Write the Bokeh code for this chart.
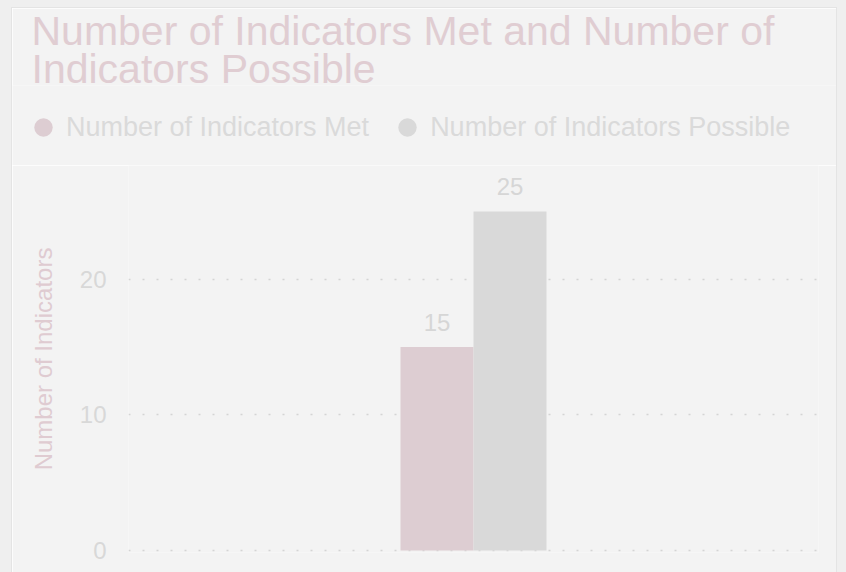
from bokeh.plotting import figure
from bokeh.models import (ColumnDataSource, FactorRange, Range1d, FixedTicker,
                          Legend, LegendItem, LabelSet, Title)
from bokeh.layouts import column
from bokeh.transform import dodge
from bokeh.core.properties import value
from bokeh.embed import file_html
from bokeh.resources import INLINE

# ---- data ----
title_lines = ["Number of Indicators Met and Number of", "Indicators Possible"]
categories = ["Indicators"]
series = ["Number of Indicators Met", "Number of Indicators Possible"]
met = [15]
possible = [25]
colors = ["#ddcdd2", "#d9d9d9"]
y_ticks = [0, 10, 20]
y_label = "Number of Indicators"

FONT = "Liberation Sans"
TITLE_COLOR = "#e0cdd2"
BG = "#f3f3f3"
BAR_W = 0.1058

src = ColumnDataSource(dict(cat=categories, met=met, possible=possible,
                            met_lbl=[str(v) for v in met],
                            possible_lbl=[str(v) for v in possible]))
cols = ["met", "possible"]
offsets = [-BAR_W / 2, BAR_W / 2]

# ---------------- header: title + legend ----------------
head = figure(width=824, height=157, x_range=FactorRange(*categories),
              y_range=Range1d(0, 30), x_axis_location=None, y_axis_location=None,
              output_backend="svg", toolbar_location=None, min_border=0)
head.frame_align = False
head.grid.visible = False
head.outline_line_color = None
head.background_fill_color = BG
head.border_fill_color = BG

legend_items = []
for i, col in enumerate(cols):
    xd = dodge("cat", offsets[i], range=head.x_range)
    mk = head.scatter(x=xd, y=col, source=src, marker="circle", size=0,
                      fill_color=colors[i], line_color=None)
    legend_items.append(LegendItem(label=series[i], renderers=[mk]))

legend = Legend(items=legend_items, orientation="horizontal", location=(8, 13),
                glyph_width=46, glyph_height=50, label_standoff=0, spacing=15,
                padding=0, margin=0, border_line_color=None,
                background_fill_alpha=0, label_text_font_size="27px",
                label_text_color="#dadada", label_text_font=FONT)
head.add_layout(legend, "center")

head.title.text = title_lines[0]
t2 = Title(text=title_lines[1])
for t in (head.title, t2):
    t.text_font = FONT
    t.text_font_size = "41px"
    t.text_font_style = "normal"
    t.text_color = TITLE_COLOR
    t.align = "left"
    t.offset = 19
head.title.standoff = -6
t2.standoff = -13
head.add_layout(t2, "above")

# ---------------- main chart ----------------
p = figure(width=824, height=407, x_range=FactorRange(*categories),
           y_range=Range1d(-0.15, 28.39), output_backend="svg",
           toolbar_location=None, title_location=None,
           min_border_left=116, min_border_right=18,
           min_border_top=0, min_border_bottom=20)
p.frame_align = False

for i, col in enumerate(cols):
    xd = dodge("cat", offsets[i], range=p.x_range)
    p.vbar(x=xd, top=col, width=BAR_W, color=colors[i], line_color=None, source=src)
    lbl = LabelSet(x=xd, y=col, text=col + "_lbl", source=src, text_align="center",
                   text_baseline="bottom", y_offset=16,
                   text_font_size=value("24px"), text_font=value(FONT),
                   text_color="#d6d6d6")
    p.add_layout(lbl)

p.xaxis.visible = False
p.xgrid.visible = False
p.yaxis.ticker = FixedTicker(ticks=y_ticks)
p.yaxis.axis_line_color = None
p.yaxis.major_tick_line_color = None
p.yaxis.minor_tick_line_color = None
p.yaxis.major_tick_out = 0
p.yaxis.major_label_text_font = FONT
p.yaxis.major_label_text_font_size = "24px"
p.yaxis.major_label_text_color = "#d8d8d8"
p.yaxis.major_label_standoff = 22
p.yaxis.axis_label = y_label
p.yaxis.axis_label_text_font = FONT
p.yaxis.axis_label_text_font_size = "24px"
p.yaxis.axis_label_text_font_style = "normal"
p.yaxis.axis_label_text_color = "#dfcbd1"
p.yaxis.axis_label_standoff = 20
p.ygrid.grid_line_color = "#d4d4d4"
p.ygrid.grid_line_dash = "2 12"
p.ygrid.grid_line_width = 1.5

p.outline_line_color = None
p.background_fill_color = BG
p.border_fill_color = BG

layout = column(head, p, spacing=0)
layout.margin = (8, 10, 0, 12)
layout.styles = {"box-shadow": ("0 0 0 1px #e4e4e4, -12px 0 0 0 #efefef, "
                                "12px 0 0 0 #efefef, 0 -8px 0 0 #efefef, "
                                "-12px -8px 0 0 #efefef, 12px -8px 0 0 #efefef")}

open("out.html", "w").write(file_html(layout, INLINE))
